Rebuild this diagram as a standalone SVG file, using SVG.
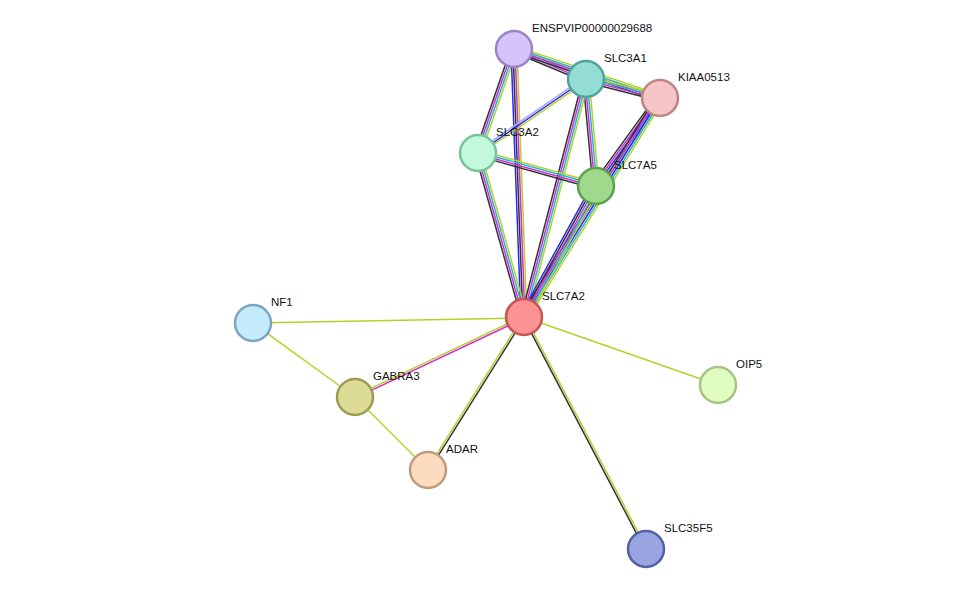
<svg xmlns="http://www.w3.org/2000/svg" width="975" height="595" viewBox="0 0 975 595">
<style>
line{stroke-width:1.5}
.k{stroke:#333}.m{stroke:#d62bd6}.c{stroke:#22b8d0}.y{stroke:#b4d22a}.b{stroke:#2a2af0}.l{stroke:#a8a8f8}
circle{stroke-width:2.5}
text{font-family:"Liberation Sans",Arial,sans-serif;font-size:11.5px;fill:#111}
</style>
<rect width="975" height="595" fill="#fff"/>
<g id="edges">
<g transform="translate(514,49) rotate(22.6)"><line x1="0" y1="-3" x2="78" y2="-3" class="y"/><line x1="0" y1="-1" x2="78" y2="-1" class="c"/><line x1="0" y1="1" x2="78" y2="1" class="m"/><line x1="0" y1="3" x2="78" y2="3" class="k"/></g>
<g transform="translate(514,49) rotate(18.5)"><line x1="0" y1="-3" x2="154" y2="-3" class="y"/><line x1="0" y1="-1" x2="154" y2="-1" class="c"/><line x1="0" y1="1" x2="154" y2="1" class="m"/><line x1="0" y1="3" x2="154" y2="3" class="k"/></g>
<g transform="translate(586,79) rotate(14.4)"><line x1="0" y1="-3" x2="76" y2="-3" class="y"/><line x1="0" y1="-1" x2="76" y2="-1" class="c"/><line x1="0" y1="1" x2="76" y2="1" class="m"/><line x1="0" y1="3" x2="76" y2="3" class="k"/></g>
<g transform="translate(514,49) rotate(109.1)"><line x1="0" y1="-3" x2="110" y2="-3" class="y"/><line x1="0" y1="-1" x2="110" y2="-1" class="c"/><line x1="0" y1="1" x2="110" y2="1" class="m"/><line x1="0" y1="3" x2="110" y2="3" class="k"/></g>
<g transform="translate(514,49) rotate(87.9)"><line x1="0" y1="-3" x2="268" y2="-3" class="y"/><line x1="0" y1="-1" x2="268" y2="-1" class="m"/><line x1="0" y1="1" x2="268" y2="1" class="k"/><line x1="0" y1="3" x2="268" y2="3" class="b"/></g>
<g transform="translate(586,79) rotate(145.6)"><line x1="0" y1="-2" x2="131" y2="-2" class="y"/><line x1="0" y1="0" x2="131" y2="0" class="b"/><line x1="0" y1="2" x2="131" y2="2" class="l"/></g>
<g transform="translate(586,79) rotate(84.7)"><line x1="0" y1="-3" x2="107" y2="-3" class="y"/><line x1="0" y1="-1" x2="107" y2="-1" class="c"/><line x1="0" y1="1" x2="107" y2="1" class="m"/><line x1="0" y1="3" x2="107" y2="3" class="k"/></g>
<g transform="translate(586,79) rotate(104.6)"><line x1="0" y1="-3" x2="246" y2="-3" class="y"/><line x1="0" y1="-1" x2="246" y2="-1" class="c"/><line x1="0" y1="1" x2="246" y2="1" class="m"/><line x1="0" y1="3" x2="246" y2="3" class="k"/></g>
<g transform="translate(660,98) rotate(126)"><line x1="0" y1="-4" x2="109" y2="-4" class="y"/><line x1="0" y1="-2" x2="109" y2="-2" class="c"/><line x1="0" y1="0" x2="109" y2="0" class="b"/><line x1="0" y1="2" x2="109" y2="2" class="m"/><line x1="0" y1="4" x2="109" y2="4" class="k"/></g>
<g transform="translate(660,98) rotate(121.8)"><line x1="0" y1="-4" x2="258" y2="-4" class="y"/><line x1="0" y1="-2" x2="258" y2="-2" class="c"/><line x1="0" y1="0" x2="258" y2="0" class="b"/><line x1="0" y1="2" x2="258" y2="2" class="m"/><line x1="0" y1="4" x2="258" y2="4" class="k"/></g>
<g transform="translate(478,153) rotate(15.6)"><line x1="0" y1="-3" x2="122" y2="-3" class="y"/><line x1="0" y1="-1" x2="122" y2="-1" class="c"/><line x1="0" y1="1" x2="122" y2="1" class="m"/><line x1="0" y1="3" x2="122" y2="3" class="k"/></g>
<g transform="translate(478,153) rotate(74.3)"><line x1="0" y1="-3" x2="170" y2="-3" class="y"/><line x1="0" y1="-1" x2="170" y2="-1" class="c"/><line x1="0" y1="1" x2="170" y2="1" class="m"/><line x1="0" y1="3" x2="170" y2="3" class="k"/></g>
<g transform="translate(596,186) rotate(118.8)"><line x1="0" y1="-4" x2="150" y2="-4" class="y"/><line x1="0" y1="-2" x2="150" y2="-2" class="c"/><line x1="0" y1="0" x2="150" y2="0" class="m"/><line x1="0" y1="2" x2="150" y2="2" class="k"/><line x1="0" y1="4" x2="150" y2="4" class="b"/></g>
<line x1="253" y1="323" x2="524" y2="318" class="y"/>
<line x1="253" y1="323" x2="355" y2="397" class="y"/>
<line x1="355" y1="397" x2="428" y2="470" class="y"/>
<line x1="524" y1="317" x2="718" y2="385" class="y"/>
<g transform="translate(355,397) rotate(-25.3)"><line x1="0" y1="-1" x2="187" y2="-1" class="y"/><line x1="0" y1="1" x2="187" y2="1" class="m"/></g>
<g transform="translate(428,470) rotate(-57.9)"><line x1="0" y1="-1" x2="181" y2="-1" class="y"/><line x1="0" y1="1" x2="181" y2="1" class="k"/></g>
<g transform="translate(524,317) rotate(62.3)"><line x1="0" y1="-1" x2="262" y2="-1" class="y"/><line x1="0" y1="1" x2="262" y2="1" class="k"/></g>
</g>
<g id="ENSPVIP00000029688"><circle cx="514" cy="49" r="18" fill="#d4c4f9" stroke="#9b83c8"/><text x="532" y="32">ENSPVIP00000029688</text></g>
<g id="SLC3A1"><circle cx="586" cy="79" r="18" fill="#94ddd4" stroke="#4fa39a"/><text x="604" y="62">SLC3A1</text></g>
<g id="KIAA0513"><circle cx="660" cy="98" r="18" fill="#f6c6c6" stroke="#c08484"/><text x="678" y="81">KIAA0513</text></g>
<g id="SLC3A2"><circle cx="478" cy="153" r="18" fill="#c3f8dc" stroke="#78c49a"/><text x="496" y="136">SLC3A2</text></g>
<g id="SLC7A5"><circle cx="596" cy="186" r="18" fill="#9ed98c" stroke="#5ca24e"/><text x="614" y="169">SLC7A5</text></g>
<g id="SLC7A2"><circle cx="524" cy="317" r="18" fill="#fc9393" stroke="#c45656"/><text x="542" y="300">SLC7A2</text></g>
<g id="NF1"><circle cx="253" cy="323" r="18" fill="#c4ecfc" stroke="#7aa6c4"/><text x="271" y="306">NF1</text></g>
<g id="GABRA3"><circle cx="355" cy="397" r="18" fill="#dcdc96" stroke="#9c9c56"/><text x="373" y="380">GABRA3</text></g>
<g id="ADAR"><circle cx="428" cy="470" r="18" fill="#fcdcc0" stroke="#c09c7a"/><text x="446" y="453">ADAR</text></g>
<g id="OIP5"><circle cx="718" cy="385" r="18" fill="#e0fcc0" stroke="#a4c484"/><text x="736" y="368">OIP5</text></g>
<g id="SLC35F5"><circle cx="646" cy="549" r="18" fill="#9aa4e0" stroke="#5460a4"/><text x="664" y="532">SLC35F5</text></g>
</svg>
